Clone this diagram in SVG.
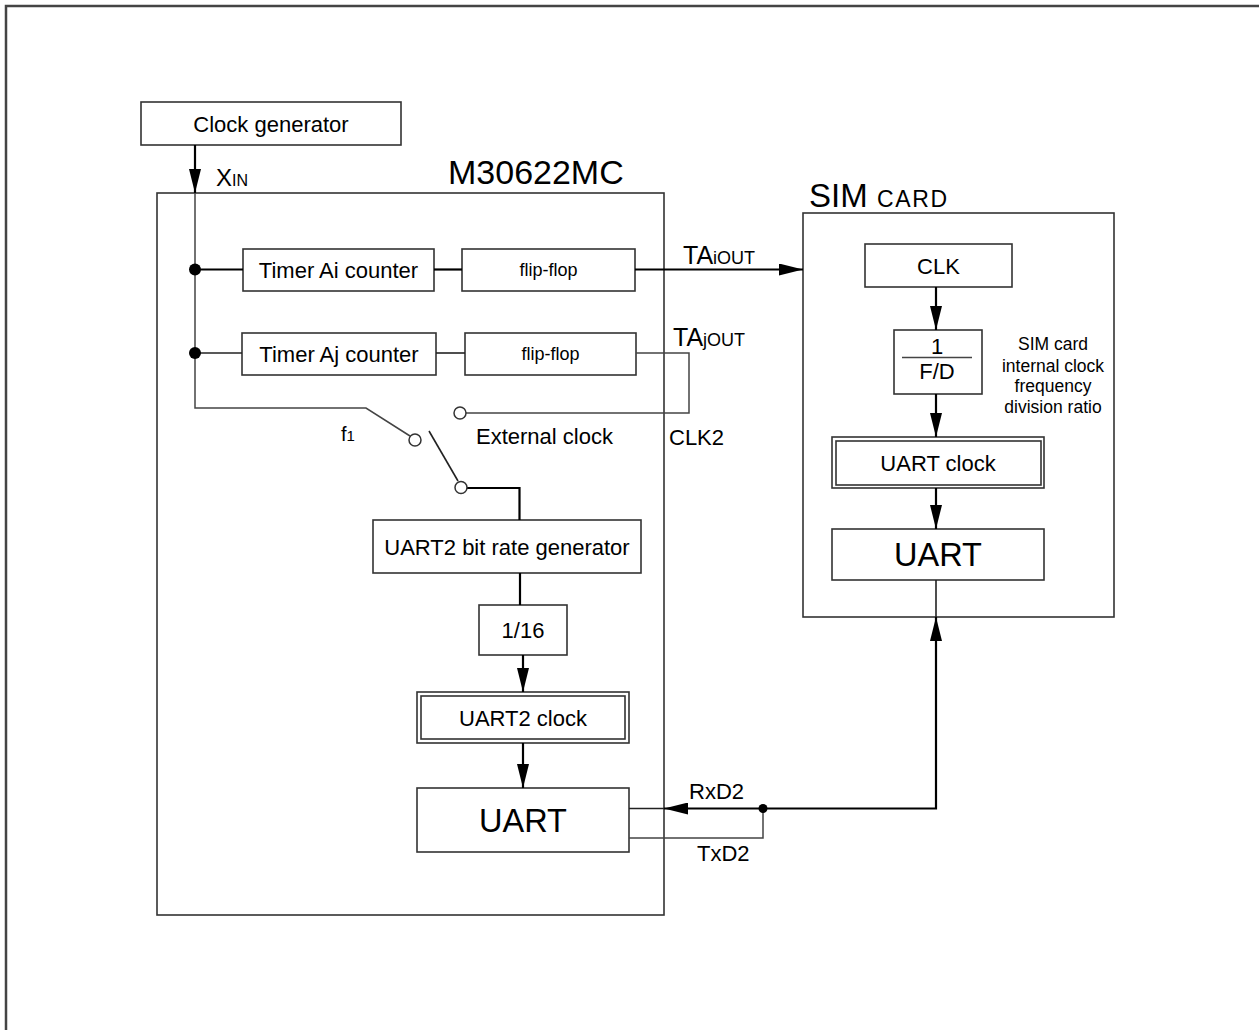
<svg xmlns="http://www.w3.org/2000/svg" width="1259" height="1030" viewBox="0 0 1259 1030">
<defs>
<style>
.box{fill:#fff;stroke:#333;stroke-width:1.6}
.frame{fill:none;stroke:#444;stroke-width:2.5}
.cont{fill:none;stroke:#222;stroke-width:1.6}
.w{fill:none;stroke:#000;stroke-width:2.2}
.t{stroke:#444;stroke-width:1.5;fill:none}
.oc{fill:#fff;stroke:#333;stroke-width:1.5}
text{font-family:"Liberation Sans",Arial,sans-serif;fill:#000}
.c{text-anchor:middle}
.f22{font-size:22px}
.f18{font-size:18px}
</style>
<marker id="ah" markerUnits="userSpaceOnUse" markerWidth="24" markerHeight="12" refX="24" refY="6" orient="auto">
<path d="M0,0 L24,6 L0,12 z" fill="#000"/>
</marker>
</defs>
<rect x="6" y="6" width="1300" height="1100" class="frame"/>

<g id="clock-generator">
<rect x="141" y="102" width="260" height="43" class="box"/>
<text x="271" y="132" class="c f22">Clock generator</text>
</g>

<g id="m30622mc">
<rect x="157" y="193" width="507" height="722" class="box"/>
<text x="448" y="184" style="font-size:34px">M30622MC</text>
</g>

<g id="timer-ai">
<rect x="243" y="249" width="191" height="42" class="box"/>
<text x="338.5" y="278" class="c f22">Timer Ai counter</text>
</g>
<g id="ff-i">
<rect x="462" y="249" width="173" height="42" class="box"/>
<text x="548.5" y="276" class="c f18">flip-flop</text>
</g>
<g id="timer-aj">
<rect x="242" y="333" width="194" height="42" class="box"/>
<text x="339" y="362" class="c f22">Timer Aj counter</text>
</g>
<g id="ff-j">
<rect x="465" y="333" width="171" height="42" class="box"/>
<text x="550.5" y="360" class="c f18">flip-flop</text>
</g>
<g id="brg">
<rect x="373" y="520" width="268" height="53" class="box"/>
<text x="507" y="555" class="c f22">UART2 bit rate generator</text>
</g>
<g id="div16">
<rect x="479" y="605" width="88" height="50" class="box"/>
<text x="523" y="638" class="c f22">1/16</text>
</g>
<g id="uart2-clock">
<rect x="417" y="692" width="212" height="51" class="box"/>
<rect x="421" y="696" width="204" height="43" class="box"/>
<text x="523" y="726" class="c f22">UART2 clock</text>
</g>
<g id="uart-mcu">
<rect x="417" y="788" width="212" height="64" class="box"/>
<text x="523" y="832" class="c" style="font-size:32.5px">UART</text>
</g>

<g id="sim-card">
<rect x="803" y="213" width="311" height="404" class="box"/>
<text x="809" y="207"><tspan style="font-size:33px">SIM</tspan><tspan x="877" style="font-size:23px" textLength="70">CARD</tspan></text>
</g>
<g id="clk">
<rect x="865" y="244" width="147" height="43" class="box"/>
<text x="938.5" y="274" class="c f22">CLK</text>
</g>
<g id="fd">
<rect x="894" y="330" width="88" height="64" class="box"/>
<text x="937" y="354" class="c f22">1</text>
<line x1="902" y1="357.5" x2="972" y2="357.5" class="t"/>
<text x="937" y="379" class="c f22">F/D</text>
</g>
<g id="sim-note">
<text class="c" style="font-size:17.5px"><tspan x="1053" y="350">SIM card</tspan><tspan x="1053" y="371.5">internal clock</tspan><tspan x="1053" y="392">frequency</tspan><tspan x="1053" y="412.5">division ratio</tspan></text>
</g>
<g id="uart-clock">
<rect x="832" y="437" width="212" height="51" class="box"/>
<rect x="836" y="441" width="205" height="44" class="box"/>
<text x="938" y="471" class="c f22">UART clock</text>
</g>
<g id="uart-sim">
<rect x="832" y="529" width="212" height="51" class="box"/>
<text x="938" y="566" class="c" style="font-size:32.5px">UART</text>
</g>

<g id="connectors">
<line x1="195" y1="145" x2="195" y2="193" class="w" marker-end="url(#ah)"/>
<path d="M195,193 V408 H366 L410,436" class="t"/>
<line x1="195" y1="269.5" x2="243" y2="269.5" class="w"/>
<line x1="434" y1="269.5" x2="462" y2="269.5" class="w"/>
<line x1="635" y1="269.5" x2="803" y2="269.5" class="w" marker-end="url(#ah)"/>
<line x1="195" y1="353" x2="242" y2="353" class="cont"/>
<line x1="436" y1="353" x2="465" y2="353" class="cont"/>
<path d="M636,353 H689 V413 H466" class="t"/>
<line x1="429" y1="431" x2="458" y2="481" class="cont"/>
<path d="M467,488 H519.5 V520" class="w"/>
<line x1="520" y1="573" x2="520" y2="605" class="w"/>
<line x1="523" y1="655" x2="523" y2="692" class="w" marker-end="url(#ah)"/>
<line x1="523" y1="743" x2="523" y2="788" class="w" marker-end="url(#ah)"/>
<line x1="629" y1="808.5" x2="664" y2="808.5" class="cont"/>
<line x1="763" y1="808.5" x2="664" y2="808.5" class="w" marker-end="url(#ah)"/>
<path d="M763,808.5 H936 V617" class="w" marker-end="url(#ah)"/>
<path d="M629,838 H763 V808.5" class="t"/>
<line x1="936" y1="580" x2="936" y2="617" class="cont"/>
<line x1="936" y1="287" x2="936" y2="330" class="w" marker-end="url(#ah)"/>
<line x1="936" y1="394" x2="936" y2="437" class="w" marker-end="url(#ah)"/>
<line x1="936" y1="488" x2="936" y2="529" class="w" marker-end="url(#ah)"/>
<circle cx="195" cy="269.5" r="6" fill="#000"/>
<circle cx="195" cy="353" r="6" fill="#000"/>
<circle cx="763" cy="808.5" r="4.5" fill="#000"/>
<circle cx="415" cy="440" r="6" class="oc"/>
<circle cx="460" cy="413" r="6" class="oc"/>
<circle cx="461" cy="487.5" r="6" class="oc"/>
</g>

<g id="labels">
<text x="216" y="186"><tspan style="font-size:24px">X</tspan><tspan style="font-size:16px">IN</tspan></text>
<text x="683" y="264"><tspan style="font-size:25px">TA</tspan><tspan style="font-size:18px">iOUT</tspan></text>
<text x="673" y="346"><tspan style="font-size:25px">TA</tspan><tspan style="font-size:18px">jOUT</tspan></text>
<text x="341" y="441"><tspan style="font-size:20px">f</tspan><tspan style="font-size:15px">1</tspan></text>
<text x="476" y="444" class="f22">External clock</text>
<text x="669" y="445" class="f22">CLK2</text>
<text x="689" y="799" class="f22">RxD2</text>
<text x="697" y="861" class="f22">TxD2</text>
</g>
</svg>
